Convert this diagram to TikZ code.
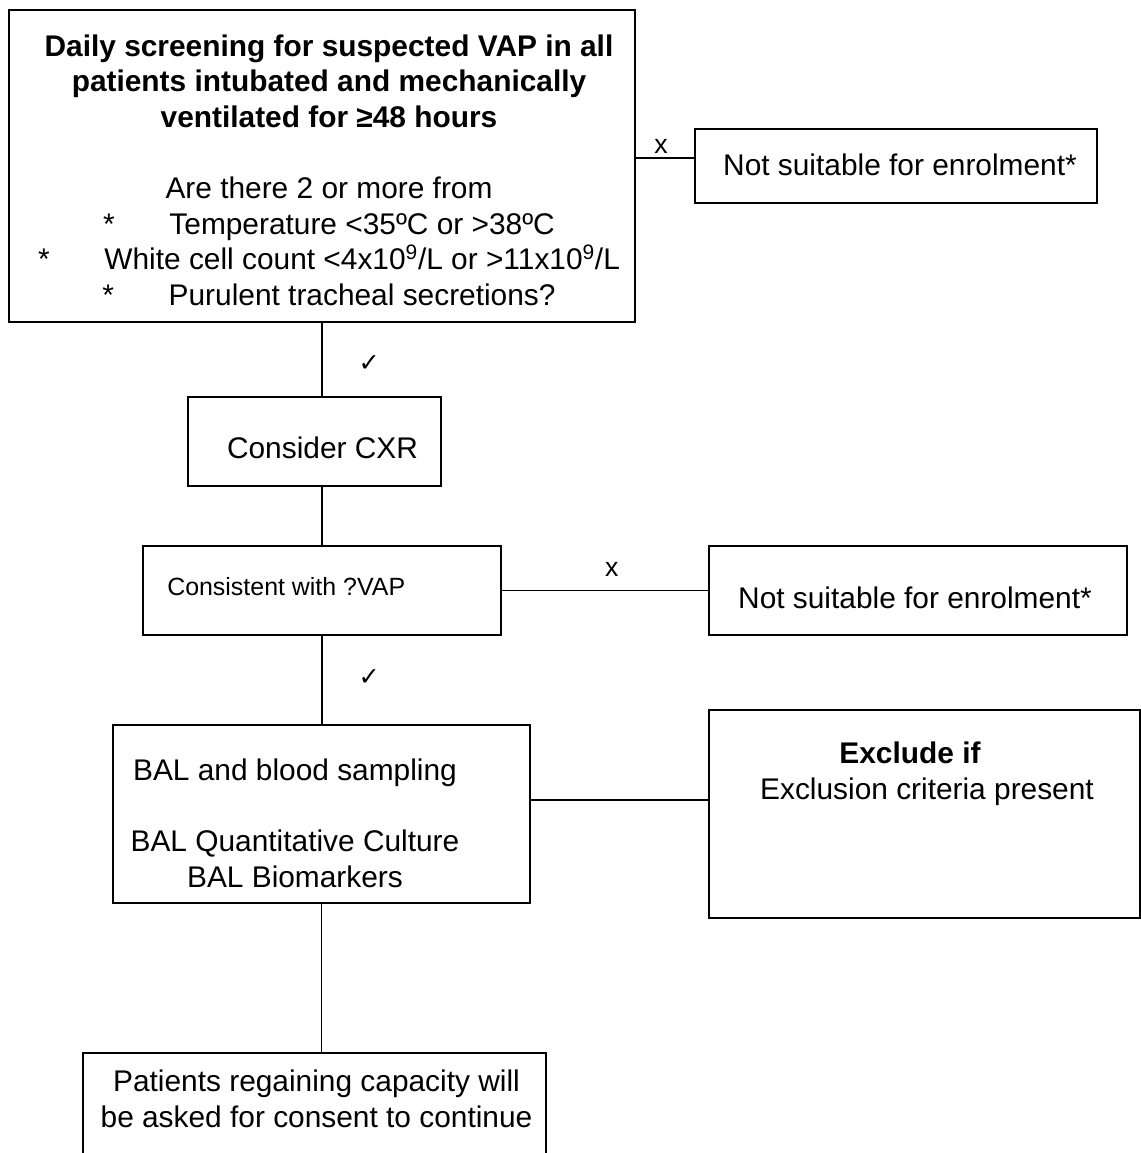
\documentclass[tikz,border=0pt]{standalone}
\usepackage{fontspec}
\setmainfont{Liberation Sans}
\newfontfamily\coche{DejaVu Sans}
\begin{document}
\begin{tikzpicture}[x=0.75pt,y=-0.75pt]
	% Styles
	\tikzstyle{boite}=[draw,line width=1.1pt,rectangle,inner sep=0pt]
	\tikzstyle{texte}=[inner sep=0pt,align=center,font=\fontsize{22.4}{26.7}\selectfont]
	\tikzstyle{petit}=[inner sep=0pt,font=\fontsize{18.7}{22}\selectfont]
	\tikzstyle{trait}=[-,line width=1.1pt]
	\tikzstyle{reponse}=[inner sep=2pt,font=\fontsize{20}{22}\selectfont]
	\tikzstyle{oui}=[inner sep=0pt,font=\fontsize{19}{22}\coche]
	% Dimensions
	\def\px{0.75pt}
	\useasboundingbox (0,0) rectangle (1141,1153);
	\clip (0,0) rectangle (1141,1153);
	% Boites
	\node[boite,minimum width=626*\px,minimum height=312*\px] (Depistage) at (322,166) {};
	\node[boite,minimum width=402*\px,minimum height=74*\px] (NonA) at (896,166) {};
	\node[boite,minimum width=253*\px,minimum height=89*\px] (CXR) at (314.5,441.5) {};
	\node[boite,minimum width=358*\px,minimum height=89*\px] (Coherent) at (322,590.5) {};
	\node[boite,minimum width=418*\px,minimum height=89*\px] (NonB) at (918,590.5) {};
	\node[boite,minimum width=417*\px,minimum height=178*\px] (Prelevement) at (321.5,814) {};
	\node[boite,minimum width=431*\px,minimum height=208*\px] (Exclusion) at (924.5,814) {};
	\node[boite,minimum width=463*\px,minimum height=120*\px] (Consentement) at (314.5,1113) {};
	% Textes
	\node[texte] (tDepistage) at (329,170) {\textbf{Daily screening for suspected VAP in all}\\
		\textbf{patients intubated and mechanically}\\
		\textbf{ventilated for ≥48 hours}\\[26.7pt]
		Are there 2 or more from\\
		{*}\hspace{41pt}Temperature <35ºC or >38ºC\\
		{*}\hspace{41pt}White cell count <4x10\textsuperscript{9}/L or >11x10\textsuperscript{9}/L\\
		{*}\hspace{41pt}Purulent tracheal secretions?};
	\node[texte] (tNonA) at (900,165) {Not suitable for enrolment*};
	\node[texte] (tCXR) at (322.5,448) {Consider CXR};
	\node[petit,anchor=west] (tCoherent) at (167,587) {Consistent with ?VAP};
	\node[texte] (tNonB) at (915,598) {Not suitable for enrolment*};
	\node[texte] (tPrelevement) at (295,823) {BAL and blood sampling\\[26.7pt]
		BAL Quantitative Culture\\
		BAL Biomarkers};
	\node[texte] (tExclusion) at (927,774) {\mbox{\textbf{Exclude if}\hspace{25.5pt}}\\
		Exclusion criteria present};
	\node[texte] (tConsentement) at (316.5,1099) {Patients regaining capacity will\\
		be asked for consent to continue};
	% Arcs
	\draw[trait] ([yshift=6pt]NonA.west) -- ([yshift=6pt]NonA.west -| Depistage.east) node[midway,above=1pt,xshift=-3pt,reponse]{x};
	\draw[trait] (Depistage.south) -- (Depistage.south |- CXR.north) node[midway,right=27pt,yshift=-3pt,oui]{✓};
	\draw[trait] (Coherent.north |- CXR.south) -- (Coherent.north);
	\draw[trait] (Coherent.east) -- (NonB.west) node[midway,above=8pt,xshift=5pt,reponse]{x};
	\draw[trait] (Coherent.south) -- (Coherent.south |- Prelevement.north) node[midway,right=27pt,yshift=2pt,oui]{✓};
	\draw[trait] ([yshift=10.5pt]Prelevement.east) -- ([yshift=10.5pt]Prelevement.east -| Exclusion.west);
	\draw[trait] (Prelevement.south) -- (Prelevement.south |- Consentement.north);
\end{tikzpicture}
\end{document}
